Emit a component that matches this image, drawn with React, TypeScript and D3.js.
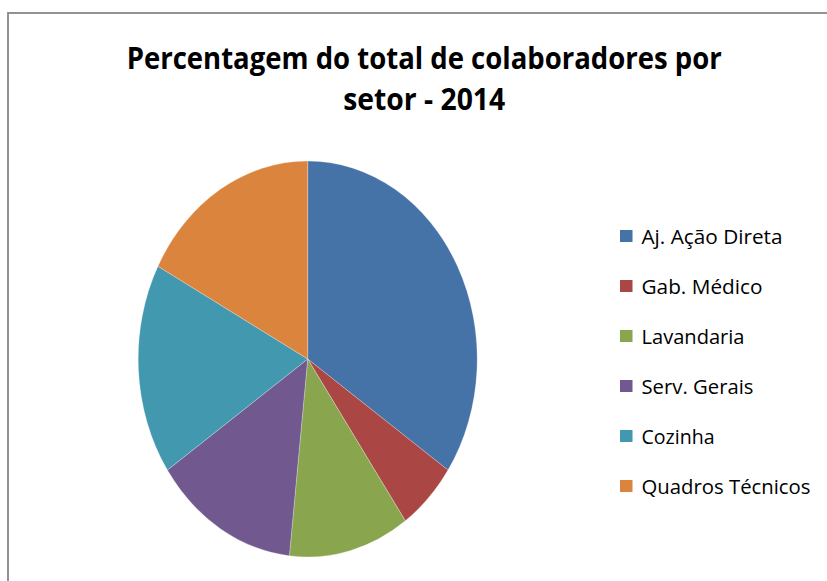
import React from "react";
import * as d3 from "d3";

const categories = ["Aj. Ação Direta", "Gab. Médico", "Lavandaria", "Serv. Gerais", "Cozinha", "Quadros Técnicos"];
const values = [30, 5, 10, 12, 15, 15];
const colors = ["#4572A7", "#AA4643", "#89A54E", "#71588F", "#4198AF", "#DB843D"];
const titleLines = ["Percentagem do total de colaboradores por", "setor - 2014"];
const titleWidths = [595, 162];
const legendWidths = [141, 121, 103, 112, 73, 169];

export default function App() {
  const W = 827;
  const H = 581;
  const cx = 307.7;
  const cy = 359;
  const rx = 169.5;
  const ry = 198;

  const pie = d3.pie<number>().sort(null).value((d) => d)(values);
  const arc = d3.arc<d3.PieArcDatum<number>>().innerRadius(0).outerRadius(rx);

  const legendY = d3.scalePoint<string>().domain(categories).range([236, 486]);

  return (
    <svg
      width={W}
      height={H}
      style={{ position: "absolute", left: 0, top: 0, background: "#fff" }}
    >
      <rect x={0} y={0} width={W} height={H} fill="#fff" />
      <rect x={8} y={13} width={W + 20} height={H + 20} fill="none" stroke="#878787" strokeWidth={1.8} />
      {titleLines.map((t, i) => (
        <text
          key={t}
          x={424.2}
          y={i === 0 ? 68.5 : 110}
          textAnchor="middle"
          fontFamily="'Open Sans', 'Noto Sans', sans-serif"
          fontWeight="bold"
          fontSize={30}
          fill="#000"
          textLength={titleWidths[i]}
          lengthAdjust="spacingAndGlyphs"
        >
          {t}
        </text>
      ))}
      <g transform={`translate(${cx},${cy}) scale(1,${ry / rx})`}>
        {pie.map((p, i) => (
          <path key={categories[i]} d={arc(p) || ""} fill={colors[i]} stroke="#ffffff" strokeWidth={0.4} strokeOpacity={0.6} />
        ))}
      </g>
      {categories.map((c, i) => (
        <g key={c}>
          <rect x={620} y={(legendY(c) as number) - 6} width={12.5} height={12} fill={colors[i]} />
          <text
            x={641.5}
            y={(legendY(c) as number) + 8.3}
            fontFamily="'Open Sans', 'Noto Sans', sans-serif"
            fontSize={20}
            fill="#000"
            textLength={legendWidths[i]}
            lengthAdjust="spacingAndGlyphs"
          >
            {c}
          </text>
        </g>
      ))}
    </svg>
  );
}
